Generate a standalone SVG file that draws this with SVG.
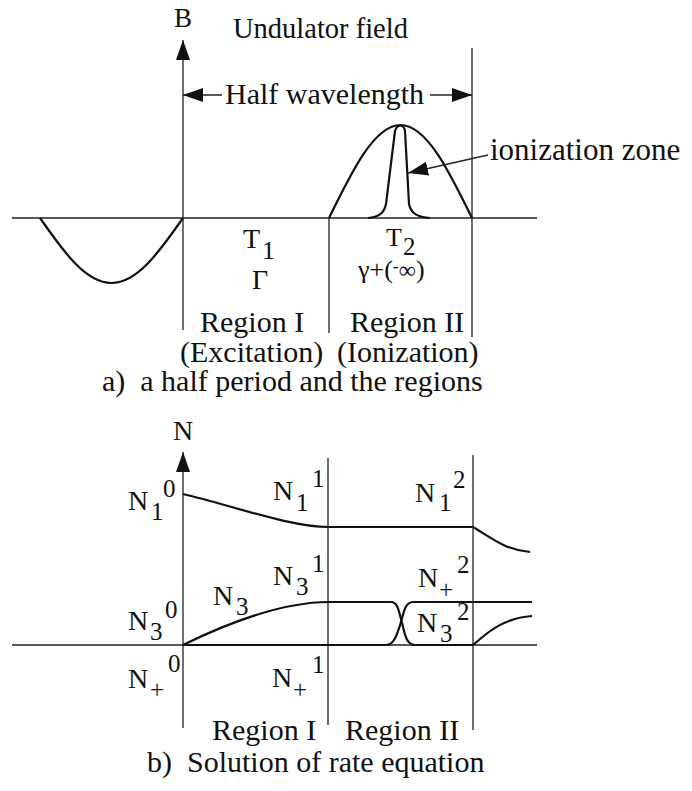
<svg xmlns="http://www.w3.org/2000/svg" width="692" height="791" viewBox="0 0 692 791">
<style>
  text { font-family: "Liberation Serif", "Times New Roman", serif; fill: #111; }
  .lbl { font-size: 30px; }
  .sm { font-size: 24px; }
  .n { font-size: 28px; }
  .d { font-size: 25px; }
  .ax { stroke: #222; stroke-width: 1.3; fill: none; }
  .cv { stroke: #111; stroke-width: 2.2; fill: none; stroke-linejoin: round; }
</style>
<defs>
  <marker id="ah" viewBox="0 0 20 14" refX="20" refY="7" markerWidth="20" markerHeight="14" orient="auto" markerUnits="userSpaceOnUse">
    <path d="M0,0 L20,7 L0,14 z" fill="#111"/>
  </marker>
</defs>
<rect width="692" height="791" fill="#fff"/>

<!-- Panel a -->
<g id="panel-a">
  <g id="a-axes" class="connectors">
    <line class="ax" x1="12" y1="218" x2="537" y2="218"/>
    <line class="ax" x1="183" y1="330" x2="183" y2="40" marker-end="url(#ah)"/>
    <line class="ax" x1="329" y1="218" x2="329" y2="333"/>
    <line class="ax" x1="472" y1="48" x2="472" y2="337"/>
    <line class="ax" x1="222" y1="95" x2="183" y2="95" marker-end="url(#ah)"/>
    <line class="ax" x1="430" y1="95" x2="472" y2="95" marker-end="url(#ah)"/>
    <line class="ax" x1="488" y1="155" x2="408" y2="173" marker-end="url(#ah)"/>
  </g>
  <g id="a-curves">
    <path class="cv" d="M40,218 C63.3,251.3 85.6,283 111.5,283 C137.4,283 159.7,251.3 183,218"/>
    <path class="cv" d="M329,218 C352.3,170.3 374.6,125 400.5,125 C426.4,125 448.7,170.3 472,218"/>
    <path class="cv" d="M368,218 C378,217 384,214 386,204 L395,131 C397,124 404,124 405,131 L409,204 C411,214 418,217 430,218"/>
  </g>
  <g id="a-labels">
    <text class="lbl" x="183" y="27" text-anchor="middle" style="font-size:27px">B</text>
    <text class="lbl" x="233" y="38" style="font-size:28.5px">Undulator field</text>
    <text class="lbl" x="225" y="104">Half wavelength</text>
    <text class="lbl" x="490" y="160" style="font-size:31px">ionization zone</text>
    <g id="T1"><text x="243" y="248" style="font-size:28px">T</text><text x="262" y="259" style="font-size:26px">1</text></g>
    <text x="252" y="289" style="font-size:28px">Γ</text>
    <g id="T2"><text x="386" y="246" style="font-size:26px">T</text><text x="403" y="255" style="font-size:25px">2</text></g>
    <text x="358" y="278" style="font-size:26px">γ+(<tspan dy="-6" style="font-size:18px">-</tspan><tspan dy="6" style="font-size:24px">∞</tspan>)</text>
    <text class="lbl" x="200" y="332">Region I</text>
    <text class="lbl" x="350" y="332">Region II</text>
    <text class="lbl" x="180" y="362">(Excitation)</text>
    <text class="lbl" x="337" y="362">(Ionization)</text>
    <text class="lbl" x="102" y="391" xml:space="preserve">a)  a half period and the regions</text>
  </g>
</g>

<!-- Panel b -->
<g id="panel-b">
  <g id="b-axes" class="connectors">
    <line class="ax" x1="12" y1="645" x2="537" y2="645"/>
    <line class="ax" x1="183" y1="728" x2="183" y2="452" marker-end="url(#ah)"/>
    <line class="ax" x1="328" y1="458" x2="328" y2="725"/>
    <line class="ax" x1="473" y1="455" x2="473" y2="730"/>
  </g>
  <g id="b-curves">
    <path id="curve-N1" class="cv" d="M183,494 C230,505 290,527 329,527 L473,527 C490,537 505,550 530,552"/>
    <path id="curve-N3" class="cv" d="M183,645 C230,622 285,602 329,602 L391,602 C398,602 399,612 402,623 C405,636 407,645 415,645 L473,645"/>
    <path id="curve-Nplus" class="cv" d="M183,645 L386,645 C394,645 397,635 401,622 C404,610 406,602 413,602 L532,602"/>
    <path id="curve-N3-next" class="cv" d="M473,645 C490,630 505,618 532,616"/>
  </g>
  <g id="b-labels">
    <text class="lbl" x="183" y="440" text-anchor="middle" style="font-size:28px">N</text>
    <g id="N1-0"><text class="n" x="128" y="510">N</text><text class="d" x="151" y="520">1</text><text class="d" x="163" y="497">0</text></g>
    <g id="N1-1"><text class="n" x="273" y="500">N</text><text class="d" x="296" y="511">1</text><text class="d" x="312" y="487">1</text></g>
    <g id="N1-2"><text class="n" x="415" y="502">N</text><text class="d" x="439" y="511">1</text><text class="d" x="453" y="488">2</text></g>
    <g id="N3-lbl"><text class="n" x="213" y="605">N</text><text class="d" x="236" y="615">3</text></g>
    <g id="N3-1"><text class="n" x="273" y="585">N</text><text class="d" x="296" y="595">3</text><text class="d" x="312" y="572">1</text></g>
    <g id="N3-0"><text class="n" x="128" y="630">N</text><text class="d" x="150" y="640">3</text><text class="d" x="165" y="618">0</text></g>
    <g id="Np-2"><text class="n" x="418" y="587">N</text><text class="d" x="439" y="598">+</text><text class="d" x="457" y="573">2</text></g>
    <g id="N3-2"><text class="n" x="417" y="632">N</text><text class="d" x="440" y="642">3</text><text class="d" x="457" y="620">2</text></g>
    <g id="Np-0"><text class="n" x="128" y="688">N</text><text class="d" x="150" y="698">+</text><text class="d" x="168" y="672">0</text></g>
    <g id="Np-1"><text class="n" x="272" y="687">N</text><text class="d" x="293" y="698">+</text><text class="d" x="312" y="673">1</text></g>
    <text class="lbl" x="212" y="740">Region I</text>
    <text class="lbl" x="345" y="740">Region II</text>
    <text class="lbl" x="147" y="772" xml:space="preserve">b)  Solution of rate equation</text>
  </g>
</g>
</svg>
